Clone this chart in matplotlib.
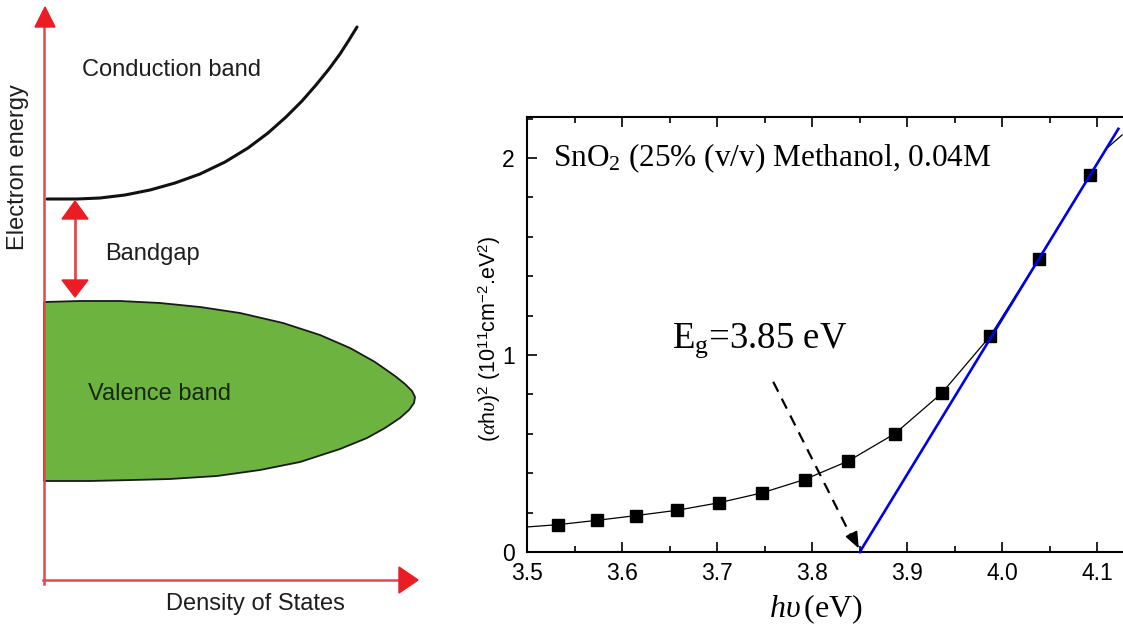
import numpy as np
import matplotlib
matplotlib.use("Agg")
import matplotlib.pyplot as plt
from matplotlib.patches import Polygon
from matplotlib.ticker import MultipleLocator

plt.rcParams['mathtext.fontset'] = 'custom'
plt.rcParams['mathtext.rm'] = 'Liberation Serif'
plt.rcParams['mathtext.it'] = 'Liberation Serif:italic'
plt.rcParams['mathtext.sf'] = 'Liberation Sans'

# --- Tauc plot data ---
hv = [3.533, 3.574, 3.615, 3.658, 3.702, 3.747, 3.792, 3.838, 3.887, 3.936, 3.987, 4.038, 4.092]
ahv2 = [0.139, 0.161, 0.185, 0.212, 0.250, 0.300, 0.368, 0.462, 0.601, 0.805, 1.095, 1.486, 1.913]

# thin guide curve through the points (ends)
curve_hv = [3.50] + hv + [4.110, 4.126]
curve_ahv2 = [0.127] + ahv2 + [2.050, 2.117]

# linear extrapolation to the energy axis
Eg = 3.85
fit_hv = [Eg, 4.122]
fit_ahv2 = [0.0, 2.148]

# dashed pointer to Eg
ptr_hv = [3.759, 3.844]
ptr_ahv2 = [0.864, 0.05]

# --- band diagram schematic (units = pixels of the left panel) ---
cond_x = [47, 77, 100, 125, 150, 175, 200, 225, 248, 268, 286, 302, 316, 329, 340, 349, 357]
cond_y = [199, 199, 198, 195, 190, 183, 174, 162, 148, 133, 117, 101, 85, 69, 54, 40, 27]

val_x = [44, 80, 120, 160, 200, 240, 283, 320, 350, 375, 395, 405, 412, 415,
         414, 409, 400, 385, 367, 340, 300, 260, 217, 170, 133, 90, 44]
val_y = [302, 301, 301, 303, 307, 313, 323, 335, 348, 362, 376, 384, 391, 397,
         403, 410, 418, 428, 438, 449, 462, 470, 476, 479, 480, 481, 481]

red_line = '#e4474c'
red_head = '#ec1c24'
txt_col = '#1e1e1e'

fig = plt.figure(figsize=(11.23, 6.28), dpi=100)

# ================= left panel =================
ax0 = fig.add_axes([0, 0, 420 / 1123, 1])
ax0.set_xlim(0, 420)
ax0.set_ylim(628, 0)
ax0.axis('off')

ax0.add_patch(Polygon(np.column_stack([val_x, val_y]), closed=True,
                      facecolor='#6cb43f', edgecolor='#1a1a1a', lw=1.3,
                      joinstyle='round', zorder=2))
ax0.plot(cond_x, cond_y, color='#111111', lw=2.2, solid_capstyle='round',
         solid_joinstyle='round', zorder=3)

# energy / DOS axes
ax0.plot([44, 44], [584, 24], color=red_line, lw=1.8, zorder=4)
ax0.plot([43, 401], [580, 580], color=red_line, lw=1.8, zorder=4)
ax0.add_patch(Polygon([[45, 7], [35, 27], [55, 27]], closed=True, color=red_head, zorder=5))
ax0.add_patch(Polygon([[418, 580], [399, 567], [399, 593]], closed=True, color=red_head, zorder=5))

# bandgap double arrow
ax0.plot([75, 75], [215, 283], color=red_line, lw=2.0, zorder=4)
ax0.add_patch(Polygon([[75, 201], [62, 219], [88, 219]], closed=True, color=red_head, zorder=5))
ax0.add_patch(Polygon([[75, 297], [62, 280], [88, 280]], closed=True, color=red_head, zorder=5))

lab = dict(family='Liberation Sans', fontsize=17, color=txt_col, va='center')
ax0.text(82, 70, 'Conduction band', ha='left', **lab)
ax0.text(105, 254, 'Bandgap', ha='left', **lab)
ax0.text(88, 394, 'Valence band', ha='left', family='Liberation Sans',
         fontsize=17, color='#17280e', va='center')
ax0.text(166, 604, 'Density of States', ha='left', **lab)
ax0.text(18, 167, 'Electron energy', ha='center', rotation=90, **lab)

# ================= right panel (Tauc plot) =================
ax = fig.add_axes([527 / 1123, 76 / 628, 618 / 1123, 435 / 628])
ax.set_xlim(3.5, 4.15)
ax.set_ylim(0, 2.208)

ax.plot(curve_hv, curve_ahv2, color='black', lw=0.9, zorder=2)
ax.plot(hv, ahv2, ls='none', marker='s', ms=8, color='black', zorder=3)
ax.plot(fit_hv, fit_ahv2, color='#0000ee', lw=1.9, zorder=4, clip_on=False)
ax.plot(ptr_hv, ptr_ahv2, color='black', lw=1.6, ls=(0, (5, 3.5)), zorder=4)
ax.annotate('', xy=(3.849, 0.018), xytext=(3.842, 0.085),
            arrowprops=dict(arrowstyle='-|>,head_length=1.0,head_width=0.4',
                            color='black', lw=1.2, shrinkA=0, shrinkB=0))

ax.text(3.527, 1.96, r'SnO$_2$ (25% (v/v) Methanol, 0.04M', family='Liberation Serif',
        fontsize=22.5, va='baseline', ha='left')
ax.text(3.653, 1.036, r'E$_\mathrm{g}$=3.85 eV', family='Liberation Serif',
        fontsize=26.5, va='baseline', ha='left')

ax.xaxis.set_major_locator(MultipleLocator(0.1))
ax.xaxis.set_minor_locator(MultipleLocator(0.05))
ax.yaxis.set_major_locator(MultipleLocator(1))
ax.yaxis.set_minor_locator(MultipleLocator(0.2))
ax.tick_params(which='both', direction='in', top=True, right=True, width=1.2,
               labelsize=16.5)
ax.tick_params(which='major', length=7)
ax.tick_params(which='minor', length=4)
ax.tick_params(axis='x', pad=7)
ax.tick_params(axis='y', pad=9)
for t in ax.get_xticklabels() + ax.get_yticklabels():
    t.set_family('Liberation Sans')
for s in ax.spines.values():
    s.set_linewidth(1.5)

fig.text(816 / 1123, 1 - 617 / 628, r'$h\upsilon\,$(eV)', family='Liberation Serif',
         fontsize=23, ha='center', va='baseline')
fig.text(490 / 1123, 1 - 339 / 628,
         r'($\alpha$h$\upsilon$)$^\mathsf{2}$ (10$^\mathsf{11}$cm$^\mathsf{-2}$.eV$^\mathsf{2}$)',
         family='Liberation Sans', fontsize=15.5, rotation=90, ha='center', va='center')

fig.savefig('out.png', dpi=100)
